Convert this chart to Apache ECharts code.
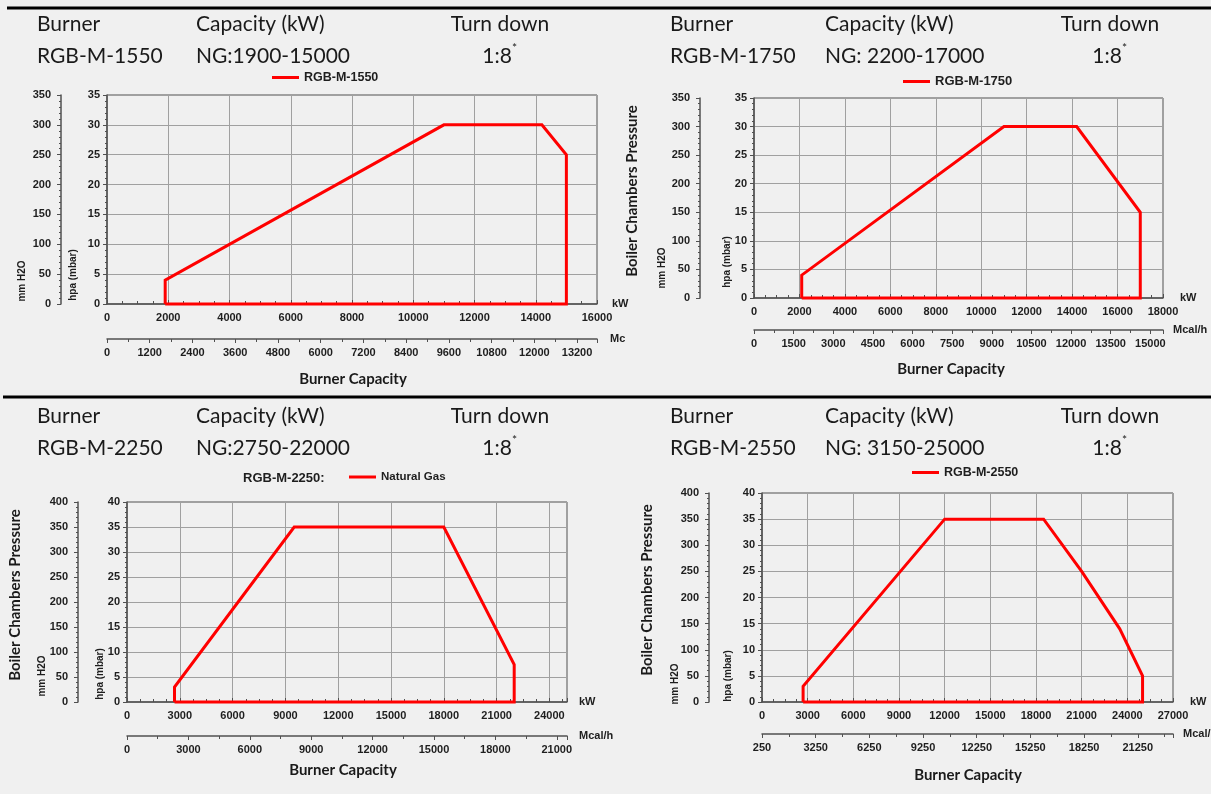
<!DOCTYPE html>
<html>
<head>
<meta charset="utf-8">
<title>RGB-M burner working fields</title>
<script src="https://cdn.jsdelivr.net/npm/echarts@6/dist/echarts.min.js"></script>
<style>
html, body { margin: 0; padding: 0; background: #f0f0f0; }
#main { width: 1211px; height: 794px; }
</style>
</head>
<body>
<div id="main"></div>
<script>
// header table of each burner
var burners = ['RGB-M-1550', 'RGB-M-1750', 'RGB-M-2250', 'RGB-M-2550'];
var capacities = ['NG:1900-15000', 'NG: 2200-17000', 'NG:2750-22000', 'NG: 3150-25000'];
var turnDown = ['1:8', '1:8', '1:8', '1:8'];
var seriesNames = ['RGB-M-1550', 'RGB-M-1750', 'Natural Gas', 'RGB-M-2550'];

// working field outlines: burner capacity (kW) vs chamber pressure (hpa)
var kw1550 = [1900, 1900, 11000, 14200, 15000, 15000, 1900];
var hpa1550 = [0, 4, 30, 30, 25, 0, 0];
var kw1750 = [2100, 2100, 11000, 14200, 17000, 17000, 2100];
var hpa1750 = [0, 4, 30, 30, 15, 0, 0];
var kw2250 = [2700, 2700, 9500, 18000, 22000, 22000, 2700];
var hpa2250 = [0, 3, 35, 35, 7.5, 0, 0];
var kw2550 = [2700, 2700, 12000, 18500, 21000, 23500, 25000, 25000, 2700];
var hpa2550 = [0, 3, 35, 35, 25, 14, 5, 0, 0];

// axis scales
var kwMax = [16000, 18000, 25000, 27000];
var kwStep = [2000, 2000, 3000, 3000];
var mcalMin = [0, 0, 0, 250];
var mcalMax = [13760, 15480, 21500, 23220];
var mcalStep = [1200, 1500, 3000, 3000];
var hpaMax = [35, 35, 40, 40];
var hpaStep = [5, 5, 5, 5];
var mmMax = [350, 350, 400, 400];
var mmStep = [50, 50, 50, 50];

function zip(xs, ys) {
    var out = [];
    for (var i = 0; i < xs.length; i++) out.push([xs[i], ys[i]]);
    return out;
}
var outlines = [zip(kw1550, hpa1550), zip(kw1750, hpa1750), zip(kw2250, hpa2250), zip(kw2550, hpa2550)];

// page layout of the four panels
var layout = [
    {grid: {left: 107, top: 95, width: 490, height: 209}, mmOff: 46, mcalOff: 35, kwGap: 15, mcalGap: 13, mcalTrunc: 18,
     legend: [272, 71], legendSize: 12.5, head: [37, 196, 500, 24, 56], capTitle: [353, 379],
     boiler: null, mm: [22, 281], hpa: [73, 275]},
    {grid: {left: 754, top: 98, width: 409, height: 200}, mmOff: 54, mcalOff: 32, kwGap: 17, mcalGap: 10, mcalTrunc: null,
     legend: [903, 75], legendSize: 13, head: [670, 825, 1110, 24, 56], capTitle: [951, 369],
     boiler: [632, 191], mm: [662, 268], hpa: [727, 262]},
    {grid: {left: 127, top: 502, width: 440, height: 200}, mmOff: 49, mcalOff: 34, kwGap: 12, mcalGap: 12, mcalTrunc: null,
     legend: [349, 471], legendSize: 11.5, head: [37, 196, 500, 416, 448], capTitle: [343, 770],
     boiler: [15, 595], mm: [42, 676], hpa: [100, 674]},
    {grid: {left: 762, top: 493, width: 411, height: 209}, mmOff: 53, mcalOff: 32, kwGap: 17, mcalGap: 10, mcalTrunc: null,
     legend: [912, 466], legendSize: 12.5, head: [670, 825, 1110, 416, 448], capTitle: [968, 775],
     boiler: [647, 590], mm: [675, 684], hpa: [728, 676]}
];

var axisFont = {fontFamily: 'Liberation Sans', fontWeight: 'bold', fontSize: 11, color: '#1e1e1e'};
var axisColor = '#505050';
var gridColor = '#a0a0a0';

function font(extra) {
    var o = {};
    for (var k in axisFont) o[k] = axisFont[k];
    for (var k2 in extra) o[k2] = extra[k2];
    return o;
}
// plain numbers, no thousand separators
function plain(v) { return String(v); }

var grids = [], xAxes = [], yAxes = [], series = [], legends = [], graphics = [];

for (var i = 0; i < 4; i++) {
    var L = layout[i];
    var g = L.grid;
    grids.push({left: g.left, top: g.top, width: g.width, height: g.height, show: true,
        borderColor: axisColor, borderWidth: 1, backgroundColor: 'transparent', outerBoundsMode: 'none'});

    // kW axis
    xAxes.push({
        gridIndex: i, type: 'value', position: 'bottom', min: 0, max: kwMax[i], interval: kwStep[i],
        name: 'kW', nameLocation: 'end', nameGap: L.kwGap, nameTextStyle: font({}),
        axisLine: {show: true, onZero: false, lineStyle: {color: axisColor, width: 1.5}},
        axisTick: {show: true, inside: true, length: 4, lineStyle: {color: axisColor}},
        minorTick: {show: true, splitNumber: 4, length: 3, lineStyle: {color: axisColor}},
        axisLabel: font({margin: 8, formatter: plain, showMaxLabel: kwMax[i] % kwStep[i] === 0 ? null : false}),
        splitLine: {show: true, lineStyle: {color: gridColor, width: 1}}
    });
    // Mcal/h axis
    var mcal = {
        gridIndex: i, type: 'value', position: 'bottom', offset: L.mcalOff,
        min: mcalMin[i], max: mcalMax[i], interval: mcalStep[i],
        name: 'Mcal/h', nameLocation: 'end', nameGap: L.mcalGap, nameTextStyle: font({}),
        axisLine: {show: true, onZero: false, lineStyle: {color: axisColor, width: 1.5}},
        axisTick: {show: true, length: 4, lineStyle: {color: axisColor}},
        minorTick: {show: true, splitNumber: 2, length: 3, lineStyle: {color: axisColor}},
        axisLabel: font({margin: 8, formatter: plain, showMaxLabel: false}),
        splitLine: {show: false}
    };
    if (L.mcalTrunc) mcal.nameTruncate = {maxWidth: L.mcalTrunc, ellipsis: ''};
    xAxes.push(mcal);

    // hpa axis
    yAxes.push({
        gridIndex: i, type: 'value', position: 'left', min: 0, max: hpaMax[i], interval: hpaStep[i],
        axisLine: {show: true, onZero: false, lineStyle: {color: axisColor, width: 1.5}},
        axisTick: {show: true, length: 4, lineStyle: {color: axisColor}},
        minorTick: {show: true, splitNumber: 5, length: 2, lineStyle: {color: axisColor}},
        axisLabel: font({margin: 7, formatter: plain}),
        splitLine: {show: true, lineStyle: {color: gridColor, width: 1}}
    });
    // mm H2O axis
    yAxes.push({
        gridIndex: i, type: 'value', position: 'left', offset: L.mmOff, min: 0, max: mmMax[i], interval: mmStep[i],
        axisLine: {show: true, onZero: false, lineStyle: {color: axisColor, width: 1.5}},
        axisTick: {show: true, length: 4, lineStyle: {color: axisColor}},
        minorTick: {show: true, splitNumber: 5, length: 2, lineStyle: {color: axisColor}},
        axisLabel: font({margin: 10, formatter: plain}),
        splitLine: {show: false}
    });

    series.push({
        type: 'line', name: seriesNames[i], xAxisIndex: 2 * i, yAxisIndex: 2 * i,
        data: outlines[i], symbol: 'none', showSymbol: false, clip: false, z: 5,
        lineStyle: {color: '#ff0000', width: 3, join: 'miter'}, itemStyle: {color: '#ff0000'}
    });

    legends.push({
        data: [seriesNames[i]], left: L.legend[0], top: L.legend[1], padding: 0,
        icon: 'rect', itemWidth: 27, itemHeight: 3, selectedMode: false,
        textStyle: font({fontSize: L.legendSize})
    });

    // header table
    var h = L.head;
    function headText(txt, x, y, align) {
        graphics.push({type: 'text', x: x, y: y, silent: true,
            style: {text: txt, fontFamily: 'Lato', fontSize: 21, fill: '#1a1a1a', align: align, verticalAlign: 'middle'}});
    }
    headText('Burner', h[0], h[3], 'left');
    headText('Capacity (kW)', h[1], h[3], 'left');
    headText('Turn down', h[2], h[3], 'center');
    headText(burners[i], h[0], h[4], 'left');
    headText(capacities[i], h[1], h[4], 'left');
    headText(turnDown[i], h[2] - 3, h[4], 'center');
    graphics.push({type: 'text', x: h[2] + 12, y: h[4] - 8, silent: true,
        style: {text: '*', fontFamily: 'Lato', fontSize: 12, fill: '#1a1a1a', align: 'left', verticalAlign: 'middle'}});

    // axis titles
    graphics.push({type: 'text', x: L.capTitle[0], y: L.capTitle[1], silent: true,
        style: {text: 'Burner Capacity', fontFamily: 'Lato', fontWeight: 'bold', fontSize: 15, fill: '#1a1a1a',
            align: 'center', verticalAlign: 'middle'}});
    if (L.boiler) {
        graphics.push({type: 'text', x: L.boiler[0], y: L.boiler[1], rotation: Math.PI / 2, silent: true,
            style: {text: 'Boiler Chambers Pressure', fontFamily: 'Lato', fontWeight: 'bold', fontSize: 15, fill: '#1a1a1a',
                align: 'center', verticalAlign: 'middle'}});
    }
    graphics.push({type: 'text', x: L.mm[0], y: L.mm[1], rotation: Math.PI / 2, silent: true,
        style: {text: 'mm H2O', fontFamily: 'Liberation Sans', fontWeight: 'bold', fontSize: 10, fill: '#1e1e1e',
            align: 'center', verticalAlign: 'middle'}});
    graphics.push({type: 'text', x: L.hpa[0], y: L.hpa[1], rotation: Math.PI / 2, silent: true,
        style: {text: 'hpa (mbar)', fontFamily: 'Liberation Sans', fontWeight: 'bold', fontSize: 10, fill: '#1e1e1e',
            align: 'center', verticalAlign: 'middle'}});
}

// legend prefix on the third chart
graphics.push({type: 'text', x: 243, y: 478, silent: true,
    style: {text: 'RGB-M-2250:', fontFamily: 'Liberation Sans', fontWeight: 'bold', fontSize: 13, fill: '#1e1e1e',
        align: 'left', verticalAlign: 'middle'}});

// separator rules
graphics.push({type: 'line', silent: true, shape: {x1: 7, y1: 8, x2: 1211, y2: 8}, style: {stroke: '#000', lineWidth: 3}});
graphics.push({type: 'line', silent: true, shape: {x1: 3, y1: 397, x2: 1211, y2: 397}, style: {stroke: '#000', lineWidth: 3}});

var myChart = echarts.init(document.getElementById('main'));
myChart.setOption({
    backgroundColor: '#f0f0f0',
    animation: false,
    grid: grids,
    xAxis: xAxes,
    yAxis: yAxes,
    legend: legends,
    series: series,
    graphic: graphics
});
</script>
</body>
</html>
